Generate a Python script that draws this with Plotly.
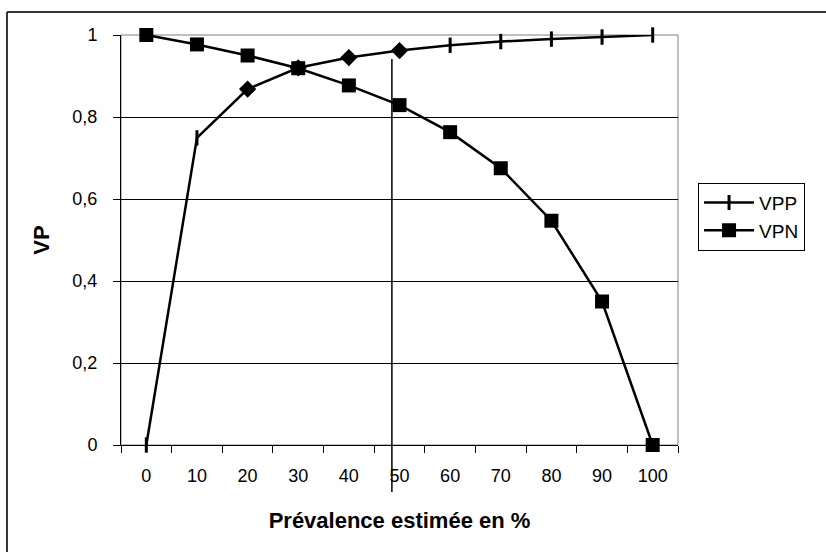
import plotly.graph_objects as go

# Data
prevalence = [0, 10, 20, 30, 40, 50, 60, 70, 80, 90, 100]
vpp = [0.0, 0.749, 0.868, 0.92, 0.945, 0.962, 0.975, 0.984, 0.990, 0.995, 1.0]
vpn = [1.0, 0.977, 0.950, 0.919, 0.877, 0.829, 0.763, 0.675, 0.547, 0.350, 0.0]
vpp_symbols = ["line-ns", "line-ns", "diamond", "diamond", "diamond", "diamond",
               "line-ns", "line-ns", "line-ns", "line-ns", "line-ns"]
vpp_sizes = [11, 11, 10, 10, 10, 10, 11, 11, 11, 11, 11]
x_tick_labels = [str(v) for v in prevalence]
y_tick_values = [0, 0.2, 0.4, 0.6, 0.8, 1.0]
reference_line_x = 48.5

FONT = "Liberation Sans, Arial, sans-serif"

fig = go.Figure()
fig.add_trace(go.Scatter(
    x=prevalence, y=vpp, name="VPP", mode="lines+markers",
    line=dict(color="#000000", width=2.5),
    marker=dict(symbol=vpp_symbols, size=vpp_sizes, opacity=1,
                color="#000000", line=dict(color="#000000", width=3)),
    cliponaxis=False,
))
fig.add_trace(go.Scatter(
    x=prevalence, y=vpn, name="VPN", mode="lines+markers",
    line=dict(color="#000000", width=2.5),
    marker=dict(symbol="square", size=14, color="#000000", opacity=1,
                line=dict(width=0)),
    cliponaxis=False,
))

fig.update_layout(
    width=826, height=552, autosize=False,
    margin=dict(l=121, r=148, t=35, b=107, pad=0),
    paper_bgcolor="white", plot_bgcolor="white",
    separators=", ",
    font=dict(family=FONT, size=18, color="black"),
    showlegend=True,
    legend=dict(x=1.036, xanchor="left", y=0.64, yanchor="top",
                bgcolor="white", bordercolor="black", borderwidth=1,
                font=dict(family=FONT, size=19, color="black"),
                itemwidth=50, entrywidth=80,
                tracegroupgap=0),
    xaxis=dict(
        range=[-5, 105], tickmode="array", tickvals=prevalence, ticktext=x_tick_labels,
        ticks="", showgrid=False, zeroline=False,
        showline=True, linecolor="black", linewidth=1,
        tickfont=dict(family=FONT, size=18, color="black"),
        ticklabelstandoff=14,
        minor=dict(ticks="outside", tick0=-5, dtick=10, ticklen=7, tickcolor="black",
                   tickwidth=1, showgrid=False),
        title=dict(text="<b>Prévalence estimée en %</b>",
                   font=dict(family=FONT, size=22, color="black"), standoff=28),
    ),
    yaxis=dict(
        range=[0, 1], tickmode="array", tickvals=y_tick_values,
        ticks="outside", ticklen=7, tickcolor="black", tickwidth=1,
        showgrid=True, gridcolor="black", gridwidth=1, zeroline=False,
        showline=True, linecolor="black", linewidth=1,
        tickfont=dict(family=FONT, size=18, color="black"),
        ticklabelstandoff=12,
        title=dict(text="<b>VP</b>", font=dict(family=FONT, size=22, color="black"),
                   standoff=16),
    ),
    shapes=[
        # plot area border (grey)
        dict(type="rect", xref="paper", yref="paper", x0=0, x1=1, y0=0, y1=1,
             line=dict(color="#808080", width=1), layer="below"),
        # outer chart border: top and left edges (others run off the page)
        dict(type="line", xref="paper", yref="paper", x0=-0.2047, x1=1.4, y0=1.0561, y1=1.0561,
             line=dict(color="#333333", width=2), layer="below"),
        dict(type="line", xref="paper", yref="paper", x0=-0.2047, x1=-0.2047, y0=-0.4, y1=1.0561,
             line=dict(color="#333333", width=2), layer="below"),
        # vertical reference line
        dict(type="line", xref="x", yref="paper", x0=reference_line_x, x1=reference_line_x,
             y0=-0.1146, y1=0.9415, line=dict(color="black", width=1.5), layer="above"),
    ],
)

fig.write_html("out.html")
